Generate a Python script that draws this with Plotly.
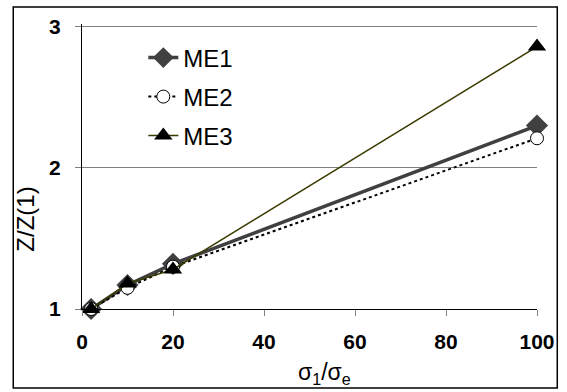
import plotly.graph_objects as go

x_vals = [2, 10, 20, 100]
me1 = [1.00, 1.17, 1.32, 2.30]
me2 = [1.00, 1.15, 1.30, 2.21]
me3 = [1.00, 1.18, 1.28, 2.86]
x_ticks = [0, 20, 40, 60, 80, 100]
y_ticks = [1, 2, 3]

W, H = 567, 392
L, R, T, B = 82, 25, 24, 83
pw, ph = W - L - R, H - T - B

def px2paper_x(px):
    return (px - L) / pw

def px2paper_y(py):
    return (H - B - py) / ph

FONT = "Liberation Sans, Arial, sans-serif"

fig = go.Figure()
fig.add_trace(go.Scatter(
    x=x_vals, y=me1, name="ME1", mode="lines+markers", legend="legend",
    line=dict(color="#404040", width=3.5),
    marker=dict(symbol="diamond", size=17, color="#404040", line=dict(width=0)),
    cliponaxis=False))
fig.add_trace(go.Scatter(
    x=x_vals, y=me2, name="ME2", mode="lines+markers", legend="legend2",
    line=dict(color="black", width=2, dash="dot"),
    marker=dict(symbol="circle", size=13, color="white", line=dict(color="black", width=1)),
    cliponaxis=False))
fig.add_trace(go.Scatter(
    x=x_vals, y=me3, name="ME3", mode="lines+markers", legend="legend3",
    line=dict(color="#3a3a00", width=1.5),
    marker=dict(symbol="triangle-up", size=16, color="black", line=dict(width=0)),
    cliponaxis=False))

leg_common = dict(xref="paper", yref="paper", xanchor="left", yanchor="middle",
                  bgcolor="rgba(0,0,0,0)", borderwidth=0, itemsizing="trace",
                  font=dict(family=FONT, size=24, color="black"))
lx = px2paper_x(144)
fig.update_layout(
    legend=dict(x=lx, y=px2paper_y(58), **leg_common),
    legend2=dict(x=lx, y=px2paper_y(97), **leg_common),
    legend3=dict(x=lx, y=px2paper_y(136), **leg_common),
)

fig.update_layout(
    width=W, height=H,
    margin=dict(l=L, r=R, t=T, b=B, pad=0),
    paper_bgcolor="white", plot_bgcolor="white",
    showlegend=True,
    xaxis=dict(range=[0, 100], tickvals=x_ticks, ticktext=[str(v) for v in x_ticks],
               showgrid=False, zeroline=False,
               showline=True, linecolor="black", linewidth=1,
               ticks="outside", ticklen=6, tickcolor="#808080", tickwidth=1,
               ticklabelstandoff=8,
               tickfont=dict(family=FONT, size=21, color="black", weight="bold")),
    yaxis=dict(range=[1, 3.02], tickvals=y_ticks, ticktext=[str(v) for v in y_ticks],
               showgrid=True, gridcolor="#808080", gridwidth=1, zeroline=False,
               showline=True, linecolor="black", linewidth=1,
               ticks="outside", ticklen=6, tickcolor="#808080", tickwidth=1,
               ticklabelstandoff=10,
               tickfont=dict(family=FONT, size=21, color="black", weight="bold")),
)

fig.add_annotation(text="σ<sub>1</sub>/σ<sub>e</sub>", xref="paper", yref="paper",
                   x=px2paper_x(327), y=px2paper_y(373), xanchor="center", yanchor="middle",
                   showarrow=False, font=dict(family=FONT, size=23, color="black"))
fig.add_annotation(text="Z/Z(1)", xref="paper", yref="paper",
                   x=px2paper_x(24), y=px2paper_y(219), xanchor="center", yanchor="middle",
                   textangle=-90, showarrow=False, font=dict(family=FONT, size=24, color="black"))

fig.add_shape(type="rect", xref="paper", yref="paper",
              x0=px2paper_x(12.5), x1=px2paper_x(562.5),
              y0=px2paper_y(388), y1=px2paper_y(7),
              line=dict(color="black", width=1.5), fillcolor="rgba(0,0,0,0)", layer="below")

fig.write_html("out.html")
